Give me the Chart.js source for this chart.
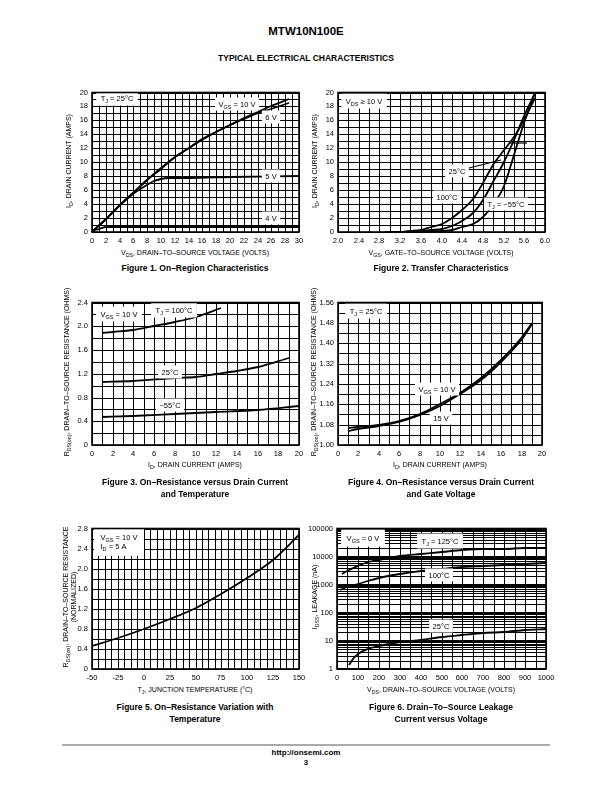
<!DOCTYPE html>
<html>
<head>
<meta charset="utf-8">
<script src="https://cdn.jsdelivr.net/npm/chart.js@4.4.1/dist/chart.umd.min.js"></script>
<style>
body { margin: 0; width: 612px; height: 792px; position: relative; background: #fff; color: #000;
       font-family: "Liberation Sans", Arial, Helvetica, sans-serif; overflow: hidden; }
.t { position: absolute; white-space: nowrap; transform: translate(-50%, -50%); }
.ty { position: absolute; white-space: nowrap; transform: translate(-50%, -50%) rotate(-90deg); font-size: 7px; }
.ax { font-size: 7px; }
.cap { font-size: 8.5px; font-weight: bold; }
.plot { position: absolute; }
sub { font-size: 75%; vertical-align: -2px; line-height: 0; }
.rule { position: absolute; left: 62px; width: 488px; top: 744px; height: 2px; background: #aaa; }
</style>
</head>
<body>

<div class="t" style="left:306px;top:31px;font-size:11.5px;font-weight:bold">MTW10N100E</div>
<div class="t" style="left:306px;top:58px;font-size:8.5px;font-weight:bold">TYPICAL ELECTRICAL CHARACTERISTICS</div>

<div class="plot" id="fig1"><canvas id="c1"></canvas></div>
<div class="plot" id="fig2"><canvas id="c2"></canvas></div>
<div class="plot" id="fig3"><canvas id="c3"></canvas></div>
<div class="plot" id="fig4"><canvas id="c4"></canvas></div>
<div class="plot" id="fig5"><canvas id="c5"></canvas></div>
<div class="plot" id="fig6"><canvas id="c6"></canvas></div>

<!-- figure 1 / 2 -->
<div class="ty" style="left:68px;top:161px">I<sub>D</sub>, DRAIN CURRENT (AMPS)</div>
<div class="t ax" style="left:195px;top:252px">V<sub>DS</sub>, DRAIN–TO–SOURCE VOLTAGE (VOLTS)</div>
<div class="t cap" style="left:195px;top:268px">Figure 1. On–Region Characteristics</div>
<div class="ty" style="left:314px;top:161px">I<sub>D</sub>, DRAIN CURRENT (AMPS)</div>
<div class="t ax" style="left:441px;top:252px">V<sub>GS</sub>, GATE–TO–SOURCE VOLTAGE (VOLTS)</div>
<div class="t cap" style="left:441px;top:268px">Figure 2. Transfer Characteristics</div>

<!-- figure 3 / 4 -->
<div class="ty" style="left:66px;top:372px">R<sub>DS(on)</sub>, DRAIN–TO–SOURCE RESISTANCE (OHMS)</div>
<div class="t ax" style="left:195px;top:464px">I<sub>D</sub>, DRAIN CURRENT (AMPS)</div>
<div class="t cap" style="left:195px;top:482px">Figure 3. On–Resistance versus Drain Current</div>
<div class="t cap" style="left:195px;top:494px">and Temperature</div>
<div class="ty" style="left:313px;top:372px">R<sub>DS(on)</sub>, DRAIN–TO–SOURCE RESISTANCE (OHMS)</div>
<div class="t ax" style="left:440px;top:464px">I<sub>D</sub>, DRAIN CURRENT (AMPS)</div>
<div class="t cap" style="left:441px;top:482px">Figure 4. On–Resistance versus Drain Current</div>
<div class="t cap" style="left:441px;top:494px">and Gate Voltage</div>

<!-- figure 5 / 6 -->
<div class="ty" style="left:65px;top:597px">R<sub>DS(on)</sub>, DRAIN–TO–SOURCE RESISTANCE</div>
<div class="ty" style="left:73px;top:597px">(NORMALIZED)</div>
<div class="t ax" style="left:195px;top:689px">T<sub>J</sub>, JUNCTION TEMPERATURE (°C)</div>
<div class="t cap" style="left:195px;top:707px">Figure 5. On–Resistance Variation with</div>
<div class="t cap" style="left:195px;top:719px">Temperature</div>
<div class="ty" style="left:314px;top:597px">I<sub>DSS</sub>, LEAKAGE (nA)</div>
<div class="t ax" style="left:441px;top:689px">V<sub>DS</sub>, DRAIN–TO–SOURCE VOLTAGE (VOLTS)</div>
<div class="t cap" style="left:441px;top:707px">Figure 6. Drain–To–Source Leakage</div>
<div class="t cap" style="left:441px;top:719px">Current versus Voltage</div>

<div class="rule"></div>
<div class="t" style="left:306px;top:752px;font-size:8px;font-weight:bold">http://onsemi.com</div>
<div class="t" style="left:306px;top:762px;font-size:8px;font-weight:bold">3</div>

<script>
// ---------- Figure 1: on-region
const fig1XLabels = ['0','2','4','6','8','10','12','14','16','18','20','22','24','26','28','30'];
const fig1YLabels = ['0','2','4','6','8','10','12','14','16','18','20'];
const fig1Vds10 = [0, 2, 4, 6, 8, 10, 12, 14, 16, 18, 20, 22, 24, 26, 28.5];
const fig1Id10  = [0, 1.9, 3.8, 5.6, 7.4, 9.2, 10.8, 12.1, 13.3, 14.4, 15.4, 16.3, 17.2, 18.0, 19.0];
const fig1Vds6  = [0, 2, 4, 6, 8, 10, 12, 14, 16, 18, 20, 22, 24, 26, 28.5];
const fig1Id6   = [0, 1.9, 3.8, 5.6, 7.4, 9.1, 10.7, 12.0, 13.2, 14.3, 15.3, 16.2, 17.0, 17.7, 18.5];
const fig1Vds5  = [0, 2, 4, 6, 8, 9, 10, 11, 12, 14, 20, 30];
const fig1Id5   = [0, 1.9, 3.8, 5.5, 6.8, 7.3, 7.6, 7.7, 7.75, 7.8, 7.9, 8.0];
const fig1Vds4  = [0, 0.5, 1, 2, 4, 10, 30];
const fig1Id4   = [0, 0.3, 0.5, 0.65, 0.7, 0.72, 0.72];

// ---------- Figure 2: transfer
const fig2XLabels = ['2.0','2.4','2.8','3.2','3.6','4.0','4.4','4.8','5.2','5.6','6.0'];
const fig2YLabels = ['0','2','4','6','8','10','12','14','16','18','20'];
const fig2Vgs100 = [2.9, 3.2, 3.4, 3.6, 3.8, 4.0, 4.2, 4.4, 4.6, 4.8, 5.0, 5.2, 5.4, 5.6, 5.8];
const fig2Id100  = [0, 0.05, 0.15, 0.35, 0.7, 1.2, 2.0, 3.1, 4.8, 7.0, 9.6, 11.7, 13.6, 16.1, 19.2];
const fig2Vgs25  = [3.2, 3.6, 3.8, 4.0, 4.2, 4.4, 4.6, 4.8, 5.0, 5.2, 5.4, 5.6, 5.8];
const fig2Id25   = [0, 0.1, 0.25, 0.5, 0.9, 1.6, 2.7, 4.6, 7.2, 10.1, 13.2, 16.6, 20.0];
const fig2Vgs55  = [3.6, 4.0, 4.2, 4.4, 4.6, 4.8, 5.0, 5.2, 5.4, 5.6, 5.8];
const fig2Id55   = [0, 0.15, 0.35, 0.7, 1.2, 2.1, 3.8, 6.6, 11.0, 15.6, 19.9];

// ---------- Figure 3: on-resistance vs drain current and temperature
const fig3XLabels = ['0','2','4','6','8','10','12','14','16','18','20'];
const fig3YLabels = ['0','0.4','0.8','1.2','1.6','2.0','2.4'];
const fig3Id100 = [1, 2, 4, 6, 8, 10, 12.5];
const fig3R100  = [1.89, 1.90, 1.94, 2.0, 2.07, 2.16, 2.30];
const fig3Id25  = [1, 4, 8, 10, 12, 14, 16, 19];
const fig3R25   = [1.06, 1.08, 1.12, 1.15, 1.19, 1.25, 1.32, 1.47];
const fig3Id55  = [1, 4, 8, 12, 16, 20];
const fig3R55   = [0.47, 0.49, 0.52, 0.55, 0.59, 0.65];

// ---------- Figure 4: on-resistance vs drain current and gate voltage
const fig4XLabels = ['0','2','4','6','8','10','12','14','16','18','20'];
const fig4YLabels = ['1.00','1.08','1.16','1.24','1.32','1.40','1.48','1.56'];
const fig4Id    = [1, 2, 4, 6, 8, 10, 12, 14, 16, 18, 19];
const fig4R10V  = [1.068, 1.071, 1.079, 1.093, 1.12, 1.16, 1.205, 1.265, 1.335, 1.425, 1.478];
const fig4R15V  = [1.056, 1.063, 1.076, 1.092, 1.117, 1.154, 1.199, 1.257, 1.327, 1.417, 1.475];

// ---------- Figure 5: normalized on-resistance vs temperature
const fig5XLabels = ['-50','-25','0','25','50','75','100','125','150'];
const fig5YLabels = ['0','0.4','0.8','1.2','1.6','2.0','2.4','2.8'];
const fig5Tj = [-50, -25, 0, 25, 50, 75, 100, 125, 150];
const fig5R  = [0.46, 0.61, 0.79, 1.0, 1.22, 1.5, 1.81, 2.17, 2.68];

// ---------- Figure 6: drain-to-source leakage
const fig6XLabels = ['0','100','200','300','400','500','600','700','800','900','1000'];
const fig6YLabels = ['1','10','100','1000','10000','100000'];
const fig6Vds125 = [25, 50, 100, 150, 200, 300, 400, 500, 600, 700, 800, 900, 1000];
const fig6I125   = [2500, 3200, 4500, 6300, 7800, 10300, 12500, 14500, 16500, 18000, 19000, 19800, 20500];
const fig6Vds100 = [16, 50, 100, 150, 200, 300, 400, 500, 600, 700, 800, 900, 1000];
const fig6I100   = [630, 800, 1050, 1350, 1700, 2400, 3100, 3700, 4300, 4800, 5200, 5500, 5700];
const fig6Vds25  = [57, 75, 100, 150, 200, 300, 400, 500, 600, 700, 800, 900, 1000];
const fig6I25    = [1.4, 2.2, 3.5, 5.2, 6.5, 8.8, 11, 13.5, 16, 18.5, 21, 24, 27];

// ---------- helpers
const FONT = 'Liberation Sans';

function pts(xs, ys) {
    return xs.map((x, i) => ({x: x, y: ys[i]}));
}

function curve(xs, ys) {
    return {
        data: pts(xs, ys),
        borderColor: '#000',
        borderWidth: 1.8,
        pointRadius: 0,
        fill: false,
        cubicInterpolationMode: 'monotone'
    };
}

function labelFor(labels, v) {
    const hit = labels.find(s => Math.abs(parseFloat(s) - v) < 1e-6);
    return hit === undefined ? '' : hit;
}

// "T_{J} = 25°C" -> [['T',false],['J',true],[' = 25°C',false]]
function parseParts(str) {
    const out = [];
    const re = /_\{([^}]*)\}/g;
    let last = 0, m;
    while ((m = re.exec(str)) !== null) {
        if (m.index > last) out.push([str.slice(last, m.index), false]);
        out.push([m[1], true]);
        last = re.lastIndex;
    }
    if (last < str.length) out.push([str.slice(last), false]);
    return out;
}

function drawNote(ctx, cx, cy, rows, pad) {
    const main = '7.5px "' + FONT + '"';
    const small = '5.5px "' + FONT + '"';
    const extra = pad || 0;
    const parsed = rows.map(parseParts);
    const widths = parsed.map(parts => parts.reduce((w, p) => {
        ctx.font = p[1] ? small : main;
        return w + ctx.measureText(p[0]).width;
    }, 0));
    const lineH = 9;
    const w = Math.max(...widths) + 7 + extra * 2;
    const h = rows.length * lineH + 4 + extra * 2;
    const left = cx - w / 2, top = cy - h / 2;
    ctx.fillStyle = '#fff';
    ctx.fillRect(left, top, w, h);
    ctx.fillStyle = '#000';
    ctx.textBaseline = 'alphabetic';
    ctx.textAlign = 'left';
    parsed.forEach((parts, r) => {
        let x = left + 3.5 + extra;
        const base = top + 2 + extra + lineH * r + 7;
        parts.forEach(p => {
            ctx.font = p[1] ? small : main;
            ctx.fillText(p[0], x, base + (p[1] ? 2 : 0));
            x += ctx.measureText(p[0]).width;
        });
    });
}

const notesPlugin = {
    id: 'notes',
    afterDatasetsDraw(chart, args, opts) {
        const ctx = chart.ctx;
        const xs = chart.scales.x, ys = chart.scales.y;
        ctx.save();
        (opts.lines || []).forEach(l => {
            ctx.beginPath();
            ctx.moveTo(xs.getPixelForValue(l[0]), ys.getPixelForValue(l[1]));
            ctx.lineTo(xs.getPixelForValue(l[2]), ys.getPixelForValue(l[3]));
            ctx.lineWidth = 1.2;
            ctx.strokeStyle = '#000';
            ctx.stroke();
        });
        (opts.labels || []).forEach(n => {
            drawNote(ctx, xs.getPixelForValue(n.x), ys.getPixelForValue(n.y), n.rows, n.pad);
        });
        const a = chart.chartArea;
        ctx.lineWidth = 1.6;
        ctx.strokeStyle = '#000';
        ctx.strokeRect(a.left, a.top, a.right - a.left, a.bottom - a.top);
        ctx.restore();
    }
};

function axisBase(labels) {
    return {
        alignToPixels: true,
        grid: {color: '#000', lineWidth: 1, drawTicks: false},
        border: {display: false},
        ticks: {
            autoSkip: false, maxRotation: 0, minRotation: 0, padding: 4, color: '#000',
            font: {size: 7.5, family: FONT},
            callback: v => labelFor(labels, v)
        },
        afterFit(s) {
            if (s.isHorizontal()) s.height = 16; else s.width = 30;
        }
    };
}

function linAxis(min, max, step, labels) {
    const a = axisBase(labels);
    a.type = 'linear';
    a.min = min;
    a.max = max;
    a.ticks.stepSize = step;
    return a;
}

function plotChart(wrapId, canvasId, box, xAxis, yAxis, datasets, notes) {
    const wrap = document.getElementById(wrapId);
    wrap.style.left = (box.l - 30) + 'px';
    wrap.style.top = (box.t - 6) + 'px';
    wrap.style.width = (box.r - box.l + 30 + 14) + 'px';
    wrap.style.height = (box.b - box.t + 6 + 16) + 'px';
    try {
        new Chart(document.getElementById(canvasId), {
            type: 'line',
            data: {datasets: datasets},
            options: {
                responsive: true,
                maintainAspectRatio: false,
                animation: false,
                parsing: false,
                layout: {padding: {left: 0, top: 6, right: 14, bottom: 0}},
                plugins: {legend: {display: false}, tooltip: {enabled: false}, notes: notes},
                scales: {x: xAxis, y: yAxis}
            },
            plugins: [notesPlugin]
        });
    } catch (error) {
        console.error('Erro no gráfico ' + canvasId + ':', error);
    }
}

// ---------- build the six plots
plotChart('fig1', 'c1', {l: 92, r: 299, t: 90, b: 232},
    linAxis(0, 30, 1, fig1XLabels), linAxis(0, 20, 1, fig1YLabels),
    [curve(fig1Vds10, fig1Id10), curve(fig1Vds6, fig1Id6), curve(fig1Vds5, fig1Id5), curve(fig1Vds4, fig1Id4)],
    {labels: [
        {x: 3.6, y: 19.2, rows: ['T_{J} = 25°C'], pad: 1},
        {x: 21, y: 18.3, rows: ['V_{GS} = 10 V']},
        {x: 26, y: 16.5, rows: ['6 V']},
        {x: 26, y: 8.1, rows: ['5 V']},
        {x: 26, y: 2.0, rows: ['4 V']}
    ]});

plotChart('fig2', 'c2', {l: 338, r: 545, t: 90, b: 232},
    linAxis(2, 6, 0.2, fig2XLabels), linAxis(0, 20, 1, fig2YLabels),
    [curve(fig2Vgs100, fig2Id100), curve(fig2Vgs25, fig2Id25), curve(fig2Vgs55, fig2Id55)],
    {lines: [[4.45, 9.0, 5.15, 10.3], [5.3, 12.8, 5.65, 12.8]],
     labels: [
        {x: 2.5, y: 18.8, rows: ['V_{DS} ≥ 10 V'], pad: 1},
        {x: 4.3, y: 8.8, rows: ['25°C']},
        {x: 4.1, y: 5.0, rows: ['100°C']},
        {x: 5.25, y: 4.0, rows: ['T_{J} = −55°C']}
    ]});

plotChart('fig3', 'c3', {l: 92, r: 299, t: 300, b: 445},
    linAxis(0, 20, 1, fig3XLabels), linAxis(0, 2.4, 0.2, fig3YLabels),
    [curve(fig3Id100, fig3R100), curve(fig3Id25, fig3R25), curve(fig3Id55, fig3R55)],
    {labels: [
        {x: 2.6, y: 2.2, rows: ['V_{GS} = 10 V'], pad: 1},
        {x: 7.9, y: 2.28, rows: ['T_{J} = 100°C'], pad: 1},
        {x: 7.5, y: 1.23, rows: ['25°C']},
        {x: 7.5, y: 0.67, rows: ['−55°C']}
    ]});

plotChart('fig4', 'c4', {l: 338, r: 542, t: 300, b: 445},
    linAxis(0, 20, 1, fig4XLabels), linAxis(1.0, 1.56, 0.04, fig4YLabels),
    [curve(fig4Id, fig4R10V), curve(fig4Id, fig4R15V)],
    {labels: [
        {x: 2.7, y: 1.525, rows: ['T_{J} = 25°C'], pad: 1},
        {x: 9.7, y: 1.22, rows: ['V_{GS} = 10 V']},
        {x: 10.1, y: 1.107, rows: ['15 V']}
    ]});

plotChart('fig5', 'c5', {l: 92, r: 299, t: 526, b: 669},
    linAxis(-50, 150, 6.25, fig5XLabels), linAxis(0, 2.8, 0.2, fig5YLabels),
    [curve(fig5Tj, fig5R)],
    {labels: [
        {x: -24, y: 2.54, rows: ['V_{GS} = 10 V', 'I_{D} = 5 A'], pad: 3}
    ]});

// log axis: grid line at every 1..9 x decade
const fig6Grid = [];
for (let d = 1; d < 100000; d *= 10) {
    for (let k = 1; k < 10; k++) fig6Grid.push(k * d);
}
fig6Grid.push(100000);
const fig6Y = axisBase(fig6YLabels);
fig6Y.type = 'logarithmic';
fig6Y.min = 1;
fig6Y.max = 100000;
fig6Y.afterBuildTicks = s => { s.ticks = fig6Grid.map(v => ({value: v})); };
fig6Y.grid.lineWidth = c => (c.tick && fig6YLabels.includes(String(c.tick.value))) ? 2 : 1;

plotChart('fig6', 'c6', {l: 337, r: 546, t: 526, b: 669},
    linAxis(0, 1000, 50, fig6XLabels), fig6Y,
    [curve(fig6Vds125, fig6I125), curve(fig6Vds100, fig6I100), curve(fig6Vds25, fig6I25)],
    {labels: [
        {x: 125, y: 45000, rows: ['V_{GS} = 0 V'], pad: 2},
        {x: 495, y: 37000, rows: ['T_{J} = 125°C'], pad: 1},
        {x: 490, y: 2300, rows: ['100°C']},
        {x: 497, y: 33, rows: ['25°C']}
    ]});
</script>
</body>
</html>
